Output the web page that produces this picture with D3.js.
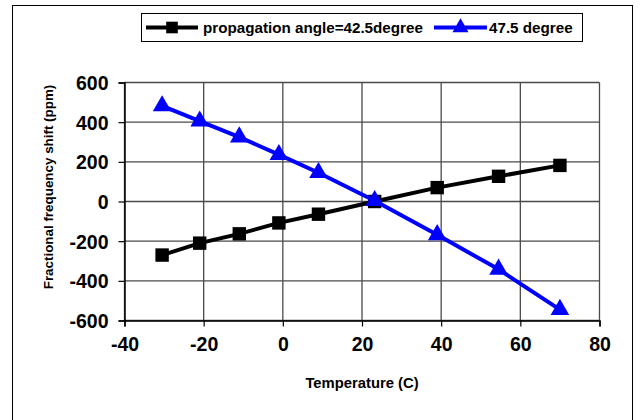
<!DOCTYPE html>
<html><head><meta charset="utf-8">
<script src="https://cdn.jsdelivr.net/npm/d3@7"></script>
<style>body{margin:0;background:#fff}svg{display:block}text{font-family:"Liberation Sans",Arial,sans-serif;font-weight:bold;fill:#000}</style>
</head><body><svg id="c" width="641" height="420"></svg>
<script>
const temperatures = [-30.5, -21, -11, -1, 9, 23.2, 39, 54.5, 70];
const angle425 = [-270, -210, -163, -108, -64, 0, 70, 127, 182];
const angle475 = [482, 405, 325, 236, 145, 4, -168, -342, -545];
const seriesNames = ["propagation angle=42.5degree", "47.5 degree"];
const xTicks = [-40, -20, 0, 20, 40, 60, 80];
const yTicks = [-600, -400, -200, 0, 200, 400, 600];

const svg = d3.select("#c");
svg.append("rect").attr("x",12.5).attr("y",5.5).attr("width",620).attr("height",430)
  .attr("fill","#fff").attr("stroke","#000").attr("stroke-width",1);

const L=124.5, R=599.5, T=82.5, B=320.5;
const x = d3.scaleLinear().domain([-40,80]).range([L,R]);
const y = d3.scaleLinear().domain([-600,600]).range([B,T]);

// gridlines
const g = svg.append("g");
g.selectAll(".hg").data(yTicks).join("line")
  .attr("x1",L).attr("x2",R).attr("y1",d=>y(d)).attr("y2",d=>y(d))
  .attr("stroke","#4a4a4a").attr("stroke-width",1.3);
g.selectAll(".vg").data(xTicks).join("line")
  .attr("x1",d=>x(d)).attr("x2",d=>x(d)).attr("y1",T).attr("y2",B)
  .attr("stroke","#4a4a4a").attr("stroke-width",1.3);

// axes
const fmt = d => String(d);
const yAxis = svg.append("g").attr("transform",`translate(${L},0)`)
  .call(d3.axisLeft(y).tickValues(yTicks).tickSize(6).tickPadding(10).tickFormat(fmt));
const xAxis = svg.append("g").attr("transform",`translate(0,${B})`)
  .call(d3.axisBottom(x).tickValues(xTicks).tickSize(6).tickPadding(10).tickFormat(fmt));
[yAxis,xAxis].forEach(a=>{
  a.select(".domain").attr("stroke","#000").attr("stroke-width",1.5);
  a.selectAll(".tick line").attr("stroke","#000").attr("stroke-width",1.2);
  a.selectAll("text").style("font-size","19.5px").style("font-family","Liberation Sans, Arial, sans-serif").style("font-weight","bold").attr("fill","#000");
});
yAxis.selectAll("text").attr("dy","0.36em");
xAxis.selectAll("text").attr("dy","0.72em");

// axis titles
svg.append("text").attr("transform","translate(53,187) rotate(-90)").attr("text-anchor","middle")
  .style("font-size","13.4px").text("Fractional frequency shift (ppm)");
svg.append("text").attr("x",(L+R)/2).attr("y",388).attr("text-anchor","middle")
  .style("font-size","14.8px").text("Temperature (C)");

// series
const series = [
  {name:seriesNames[0], vals:angle425, color:"#000", sym:d3.symbolSquare, size:180},
  {name:seriesNames[1], vals:angle475, color:"#0000ff", sym:d3.symbolTriangle, size:150}
];
const line = d3.line().x(d=>x(d[0])).y(d=>y(d[1]));
series.forEach(s=>{
  const pts = temperatures.map((t,i)=>[t,s.vals[i]]);
  svg.append("path").attr("d",line(pts)).attr("fill","none").attr("stroke",s.color).attr("stroke-width",4);
  svg.selectAll(null).data(pts).join("path")
    .attr("transform",d=>`translate(${x(d[0])},${y(d[1])})`)
    .attr("d",d3.symbol().type(s.sym).size(s.size)).attr("fill",s.color);
});

// legend
svg.append("rect").attr("x",141.5).attr("y",13.5).attr("width",441).attr("height",28)
  .attr("fill","#fff").attr("stroke","#000").attr("stroke-width",1);
const legItems = [
  {s:series[0], x1:146, x2:198, tx:203},
  {s:series[1], x1:434, x2:487, tx:489}
];
legItems.forEach(it=>{
  const cy=27.5;
  svg.append("line").attr("x1",it.x1).attr("x2",it.x2).attr("y1",cy).attr("y2",cy)
    .attr("stroke",it.s.color).attr("stroke-width",4);
  svg.append("path").attr("transform",`translate(${(it.x1+it.x2)/2},${cy})`)
    .attr("d",d3.symbol().type(it.s.sym).size(it.s.size*0.75)).attr("fill",it.s.color);
  svg.append("text").attr("x",it.tx).attr("y",cy).attr("dy","0.36em").style("font-size","15.2px").text(it.s.name);
});
</script></body></html>
